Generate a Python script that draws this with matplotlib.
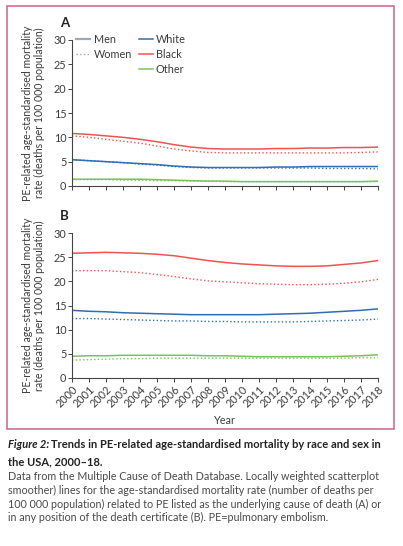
import matplotlib as mpl
mpl.use('Agg')
import matplotlib.pyplot as plt
from matplotlib.lines import Line2D
from matplotlib.patches import Rectangle

plt.rcParams['font.family'] = ['Lato', 'DejaVu Sans']

years = list(range(2000, 2019))

# panel A: PE as underlying cause of death
a_black_men = [10.8, 10.6, 10.3, 10.0, 9.6, 9.1, 8.5, 8.0, 7.7, 7.6, 7.6, 7.6, 7.7, 7.7, 7.8, 7.8, 7.9, 7.9, 8.0]
a_black_women = [10.3, 10.0, 9.6, 9.2, 8.8, 8.2, 7.6, 7.2, 6.9, 6.8, 6.8, 6.8, 6.8, 6.8, 6.8, 6.8, 6.8, 6.9, 7.0]
a_white_men = [5.4, 5.2, 5.0, 4.8, 4.6, 4.4, 4.1, 3.9, 3.8, 3.8, 3.8, 3.8, 3.9, 3.9, 4.0, 4.0, 4.0, 4.0, 4.0]
a_white_women = [5.4, 5.2, 5.0, 4.8, 4.5, 4.3, 4.0, 3.8, 3.7, 3.7, 3.7, 3.7, 3.7, 3.7, 3.7, 3.6, 3.6, 3.6, 3.5]
a_other_men = [1.4, 1.4, 1.4, 1.4, 1.4, 1.3, 1.2, 1.1, 1.0, 1.0, 0.9, 0.9, 0.9, 0.9, 0.9, 0.9, 0.9, 0.9, 1.0]
a_other_women = [1.3, 1.3, 1.3, 1.2, 1.2, 1.1, 1.1, 1.0, 1.0, 0.9, 0.9, 0.9, 0.9, 0.9, 0.9, 0.9, 0.9, 0.9, 0.9]

# panel B: PE in any position of the death certificate
b_black_men = [25.8, 25.9, 26.0, 25.9, 25.8, 25.6, 25.3, 24.8, 24.3, 23.9, 23.6, 23.4, 23.2, 23.1, 23.1, 23.2, 23.5, 23.8, 24.3]
b_black_women = [22.2, 22.2, 22.2, 22.0, 21.8, 21.4, 21.0, 20.5, 20.1, 19.9, 19.7, 19.5, 19.4, 19.3, 19.3, 19.4, 19.6, 19.9, 20.4]
b_white_men = [14.0, 13.8, 13.7, 13.5, 13.4, 13.3, 13.2, 13.1, 13.1, 13.1, 13.1, 13.1, 13.2, 13.3, 13.4, 13.6, 13.8, 14.0, 14.3]
b_white_women = [12.3, 12.3, 12.2, 12.1, 12.0, 11.9, 11.8, 11.8, 11.7, 11.7, 11.6, 11.6, 11.6, 11.6, 11.7, 11.8, 11.9, 12.0, 12.2]
b_other_men = [4.5, 4.6, 4.6, 4.7, 4.7, 4.7, 4.7, 4.7, 4.6, 4.6, 4.5, 4.4, 4.4, 4.4, 4.4, 4.4, 4.5, 4.6, 4.8]
b_other_women = [3.7, 3.8, 3.9, 4.0, 4.0, 4.1, 4.1, 4.1, 4.1, 4.1, 4.1, 4.1, 4.1, 4.1, 4.1, 4.1, 4.1, 4.2, 4.2]

RED = '#ef5350'
BLUE = '#2f6db5'
GREEN = '#7cc15a'
GREY = '#9aaab8'
TXT = '#3c3c3c'

W, H = 403, 546
fig = plt.figure(figsize=(W / 100, H / 100), dpi=100)


def box(l, t, r, b):
    return [l / W, 1 - b / H, (r - l) / W, (b - t) / H]


fig.patches.append(Rectangle((7 / W, 1 - 429 / H), 387 / W, 423 / H, transform=fig.transFigure,
                             fill=False, edgecolor='#cf6f8f', linewidth=1.2))

ylabel = 'PE-related age-standardised mortality\nrate (deaths per 100 000 population)'


def panel(ax, series, letter, show_x):
    for vals, color, ls in series:
        ax.plot(years, vals, color=color, linestyle=ls, linewidth=1.1 if ls == '-' else 1.0)
    ax.set_xlim(2000, 2018)
    ax.set_ylim(0, 30)
    ax.set_yticks(range(0, 31, 5))
    ax.set_xticks(years)
    for s in ['top', 'right']:
        ax.spines[s].set_visible(False)
    for s in ['left', 'bottom']:
        ax.spines[s].set_color('#444444')
        ax.spines[s].set_linewidth(0.8)
    ax.tick_params(colors='#444444', labelcolor=TXT, labelsize=7.8, length=3, width=0.7, pad=1)
    if show_x:
        ax.set_xticklabels([str(y) for y in years], rotation=45, ha='right', rotation_mode='anchor')
        ax.set_xlabel('Year', fontsize=7.8, color=TXT, labelpad=4)
    else:
        ax.set_xticklabels([])
    ax.set_ylabel(ylabel, fontsize=7.6, color=TXT, labelpad=6, linespacing=1.1)
    ax.text(-0.04, 1.09, letter, transform=ax.transAxes, fontsize=9.5, fontweight='bold', color='#222222')


ax1 = fig.add_axes(box(72, 40, 378, 186))
panel(ax1, [(a_black_men, RED, '-'), (a_black_women, RED, ':'),
            (a_white_men, BLUE, '-'), (a_white_women, BLUE, ':'),
            (a_other_men, GREEN, '-'), (a_other_women, GREEN, ':')], 'A', False)

handles = [Line2D([], [], color=GREY, lw=1.6), Line2D([], [], color=GREY, lw=1.0, ls=':'),
           Line2D([], [], color='none'),
           Line2D([], [], color=BLUE, lw=1.1), Line2D([], [], color=RED, lw=1.1),
           Line2D([], [], color=GREEN, lw=1.1)]
labels = ['Men', 'Women', '', 'White', 'Black', 'Other']
leg = ax1.legend(handles, labels, ncol=2, loc='upper left', bbox_to_anchor=(0.0, 1.07), frameon=False,
                 fontsize=7.8, handlelength=1.3, handletextpad=0.3, columnspacing=0.6,
                 labelspacing=0.35, borderaxespad=0)
for t in leg.get_texts():
    t.set_color(TXT)

ax2 = fig.add_axes(box(72, 233, 378, 378))
panel(ax2, [(b_black_men, RED, '-'), (b_black_women, RED, ':'),
            (b_white_men, BLUE, '-'), (b_white_women, BLUE, ':'),
            (b_other_men, GREEN, '-'), (b_other_women, GREEN, ':')], 'B', True)

# caption
title1 = fig.text(8 / W, 1 - 445 / H, 'Figure 2:', fontsize=8, fontstyle='italic', fontweight='bold',
                  color='#222222', va='center')
fig.canvas.draw()
bb = title1.get_window_extent()
fig.text((bb.x1 + 2) / W, 1 - 445 / H, 'Trends in PE-related age-standardised mortality by race and sex in',
         fontsize=8, fontweight='bold', color='#222222', va='center')
fig.text(8 / W, 1 - 462 / H, 'the USA, 2000\u201318.', fontsize=8, fontweight='bold', color='#222222', va='center')

body = ['Data from the Multiple Cause of Death Database. Locally weighted scatterplot',
        'smoother) lines for the age-standardised mortality rate (number of deaths per',
        '100 000 population) related to PE listed as the underlying cause of death (A) or',
        'in any position of the death certificate (B). PE=pulmonary embolism.']
for i, line in enumerate(body):
    fig.text(8 / W, 1 - (477 + 13.6 * i) / H, line, fontsize=7.75, color='#4a4a4a', va='center')

fig.savefig('out.png', dpi=100)
